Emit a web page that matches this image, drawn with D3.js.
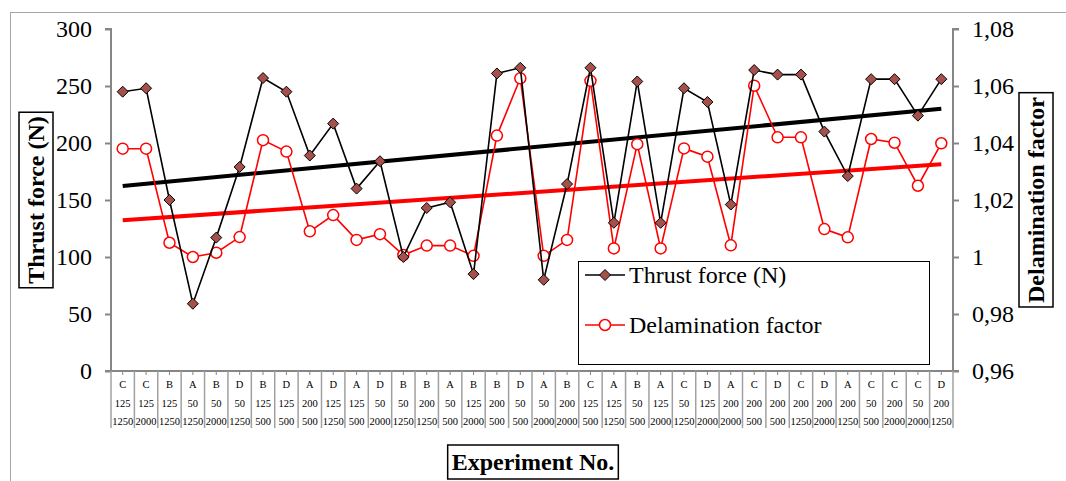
<!DOCTYPE html>
<html><head><meta charset="utf-8">
<script src="https://cdn.jsdelivr.net/npm/d3@7"></script>
<style>body{margin:0;background:#fff;} svg{display:block;}</style>
</head><body>
<svg id="chart" width="1066" height="481"></svg>
<script>
const materials = ["C","C","B","A","B","D","B","D","A","D","A","D","B","B","A","B","B","D","A","B","C","A","B","A","C","D","A","C","D","C","D","A","C","C","C","D"];
const speeds = ["125","125","125","50","50","50","125","125","200","125","125","50","50","200","50","125","200","50","50","200","125","125","50","125","50","125","200","200","200","200","200","200","50","200","50","200"];
const feeds = ["1250","2000","1250","1250","2000","1250","500","500","500","1250","500","2000","1250","1250","500","2000","500","500","2000","2000","500","1250","500","2000","1250","2000","2000","500","500","1250","2000","1250","500","2000","2000","1250"];
const thrust = [245,248,150,59,117,179,257,245,189,217,160,184,100,143,148,85,261,266,80,164,266,130,254,130,248,236,146,264,260,260,210,171,256,256,224,256];
const delam = [1.038,1.038,1.005,1.000,1.0015,1.007,1.041,1.037,1.009,1.0147,1.006,1.008,1.0007,1.004,1.004,1.0004,1.0426,1.0627,1.0004,1.006,1.0618,1.003,1.0396,1.003,1.0381,1.0352,1.0041,1.0601,1.042,1.042,1.0098,1.0069,1.0414,1.0401,1.025,1.0399];
const leftTicks = [0,50,100,150,200,250,300];
const rightTicks = [0.96,0.98,1.00,1.02,1.04,1.06,1.08];

const svg = d3.select("#chart");
const L = 111, R = 953, T = 29, B = 371;
const idx = d3.range(materials.length);
const x = d3.scaleBand().domain(idx).range([L, R]).paddingInner(0).paddingOuter(0);
const bw = x.bandwidth();
const cx = i => x(i) + bw / 2;
const yL = d3.scaleLinear().domain([0, 300]).range([B, T]);
const yR = d3.scaleLinear().domain([0.96, 1.08]).range([B, T]);
const serif = "'Liberation Serif','Times New Roman',serif";
const axisGray = "#868686";

// outer border
svg.append("rect").attr("x", 10.5).attr("y", 12.5).attr("width", 1070).attr("height", 480)
  .attr("fill", "none").attr("stroke", "#a6a6a6").attr("stroke-width", 1);

// left axis
const gL = svg.append("g").attr("transform", `translate(${L},0)`)
  .call(d3.axisLeft(yL).tickValues(leftTicks).tickSize(6).tickPadding(13).tickFormat(d3.format("d")));
// right axis
const fmtR = d => (d === 1 ? "1" : d3.format(".2f")(d).replace(".", ","));
const gR = svg.append("g").attr("transform", `translate(${R},0)`)
  .call(d3.axisRight(yR).tickValues(rightTicks).tickSize(6).tickPadding(13).tickFormat(fmtR));
[gL, gR].forEach(g => {
  g.select(".domain").attr("stroke", axisGray).attr("stroke-width", 2);
  g.selectAll(".tick line").attr("stroke", axisGray).attr("stroke-width", 2);
  g.selectAll(".tick text").attr("font-family", serif).attr("font-size", 24).attr("fill", "#000");
});
gL.select(".domain").attr("d", `M-6,${T}H0V${B}H-6`);
gR.select(".domain").attr("d", `M6,${T}H0V${B}H6`);

// x axis with category table
const gX = svg.append("g");
gX.append("line").attr("x1", L).attr("x2", R).attr("y1", B).attr("y2", B).attr("stroke", axisGray).attr("stroke-width", 2);
const bounds = d3.range(materials.length + 1).map(i => i < materials.length ? x(i) : R);
gX.selectAll("line.sep").data(bounds).join("line").attr("class", "sep")
  .attr("x1", d => d).attr("x2", d => d).attr("y1", B).attr("y2", 428)
  .attr("stroke", "#a0a0a0").attr("stroke-width", 1.5);
gX.selectAll("line.minor").data(idx).join("line").attr("class", "minor")
  .attr("x1", i => cx(i)).attr("x2", i => cx(i)).attr("y1", B).attr("y2", B + 4)
  .attr("stroke", axisGray).attr("stroke-width", 1);
const rows = [materials, speeds, feeds];
const rowY = [388, 407, 425];
rows.forEach((arr, r) => {
  gX.selectAll(`text.r${r}`).data(idx).join("text").attr("class", `r${r}`)
    .attr("x", i => cx(i)).attr("y", rowY[r]).attr("text-anchor", "middle")
    .attr("font-family", serif).attr("font-size", 10.5).attr("fill", "#000")
    .text(i => arr[i]);
});

// trend lines (least squares over experiment index)
function trend(vals) {
  const n = vals.length, xs = d3.range(1, n + 1);
  const mx = d3.mean(xs), my = d3.mean(vals);
  const b = d3.sum(xs, (xv, k) => (xv - mx) * (vals[k] - my)) / d3.sum(xs, xv => (xv - mx) ** 2);
  const a = my - b * mx;
  return [0, n - 1].map(i => ({ i, v: a + b * (i + 1) }));
}
svg.append("path").datum(trend(thrust)).attr("fill", "none").attr("stroke", "#000").attr("stroke-width", 4)
  .attr("d", d3.line().x(d => cx(d.i)).y(d => yL(d.v)));
svg.append("path").datum(trend(delam)).attr("fill", "none").attr("stroke", "#ff0000").attr("stroke-width", 4)
  .attr("d", d3.line().x(d => cx(d.i)).y(d => yR(d.v)));

// delamination series
svg.append("path").datum(delam).attr("fill", "none").attr("stroke", "#ff0000").attr("stroke-width", 1.6)
  .attr("d", d3.line().x((d, i) => cx(i)).y(d => yR(d)));
svg.selectAll("circle.dm").data(delam).join("circle").attr("class", "dm")
  .attr("cx", (d, i) => cx(i)).attr("cy", d => yR(d)).attr("r", 5.5)
  .attr("fill", "#fff").attr("stroke", "#ff0000").attr("stroke-width", 1.5);

// thrust series
svg.append("path").datum(thrust).attr("fill", "none").attr("stroke", "#000").attr("stroke-width", 1.6)
  .attr("d", d3.line().x((d, i) => cx(i)).y(d => yL(d)));
const diamond = "M0,-5.5L5.5,0L0,5.5L-5.5,0Z";
svg.selectAll("path.tm").data(thrust).join("path").attr("class", "tm")
  .attr("transform", (d, i) => `translate(${cx(i)},${yL(d)})`).attr("d", diamond)
  .attr("fill", "#a5504b").attr("stroke", "#000").attr("stroke-width", 1);

// legend
const lg = svg.append("g");
lg.append("rect").attr("x", 578.5).attr("y", 261.5).attr("width", 351).attr("height", 103)
  .attr("fill", "#fff").attr("stroke", "#000").attr("stroke-width", 1);
const items = [
  { label: "Thrust force (N)", y: 275, color: "#000", type: "d" },
  { label: "Delamination factor", y: 325, color: "#ff0000", type: "c" }
];
items.forEach(it => {
  lg.append("line").attr("x1", 585).attr("x2", 625).attr("y1", it.y).attr("y2", it.y)
    .attr("stroke", it.color).attr("stroke-width", 1.6);
  if (it.type === "d") {
    lg.append("path").attr("d", diamond).attr("transform", `translate(605,${it.y})`)
      .attr("fill", "#a5504b").attr("stroke", "#000").attr("stroke-width", 1);
  } else {
    lg.append("circle").attr("cx", 605).attr("cy", it.y).attr("r", 5.5)
      .attr("fill", "#fff").attr("stroke", "#ff0000").attr("stroke-width", 1.5);
  }
  lg.append("text").attr("x", 629).attr("y", it.y + 8).attr("font-family", serif).attr("font-size", 24)
    .attr("fill", "#000").text(it.label);
});

// axis titles with boxes
function boxedTitle(text, cxp, cyp, rot) {
  const g = svg.append("g").attr("transform", `translate(${cxp},${cyp}) rotate(${rot})`);
  const t = g.append("text").attr("text-anchor", "middle").attr("dy", "0.35em")
    .attr("font-family", serif).attr("font-weight", "bold").attr("font-size", 24).attr("fill", "#000").text(text);
  const bb = t.node().getBBox();
  g.insert("rect", "text").attr("x", bb.x - 4).attr("y", -17).attr("width", bb.width + 8).attr("height", 34)
    .attr("fill", "#fff").attr("stroke", "#000").attr("stroke-width", 1.5);
}
boxedTitle("Thrust force (N)", 36, 200, -90);
boxedTitle("Delamination factor", 1036, 200, -90);
boxedTitle("Experiment No.", 533, 462, 0);
</script>
</body></html>
